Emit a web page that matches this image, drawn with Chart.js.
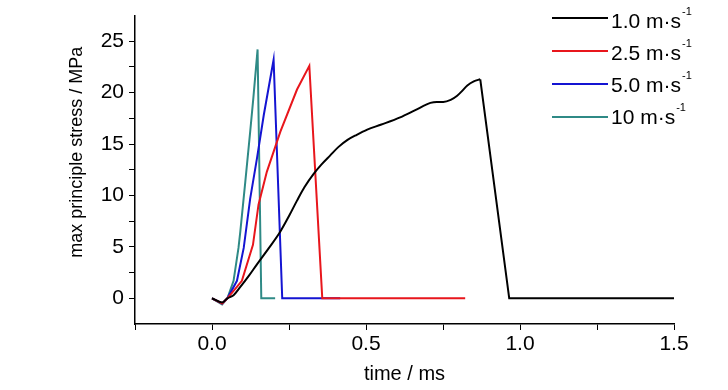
<!DOCTYPE html>
<html>
<head>
    <title>max principle stress vs time</title>
    <script src="https://cdn.jsdelivr.net/npm/chart.js@4"></script>
    <style>
        html, body { margin: 0; padding: 0; background: #fff; }
    </style>
</head>
<body>
    <canvas id="chart" width="728" height="390"></canvas>

    <script>
        // legend labels (superscript drawn separately)
        const speeds = ['1.0 m\u00b7s', '2.5 m\u00b7s', '5.0 m\u00b7s', '10 m\u00b7s'];
        const colors = ['#000000', '#e8161c', '#1414d2', '#2f8a86'];

        // time / ms and stress / MPa
        // 1.0 m/s: smooth rise up to the peak, then straight drop and flat tail
        const t1 = [0, 0.033, 0.05, 0.07, 0.092, 0.12, 0.146, 0.185, 0.222, 0.25, 0.276, 0.30, 0.33, 0.355, 0.384, 0.41, 0.44, 0.47, 0.504, 0.55, 0.611, 0.66, 0.709, 0.73, 0.751, 0.775, 0.796, 0.81, 0.829, 0.85, 0.871];
        const s1 = [0, -0.4, 0, 0.3, 1.1, 2.2, 3.3, 4.9, 6.5, 8.0, 9.5, 10.8, 12.1, 13.0, 13.9, 14.7, 15.4, 15.9, 16.4, 16.9, 17.6, 18.3, 19.0, 19.1, 19.1, 19.3, 19.7, 20.1, 20.7, 21.1, 21.3];
        const t1drop = [0.871, 0.965, 1.5];
        const s1drop = [21.3, 0, 0];

        const t2 = [0, 0.033, 0.05, 0.097, 0.133, 0.151, 0.178, 0.222, 0.276, 0.316, 0.358, 0.822];
        const s2 = [0, -0.5, 0, 1.7, 5.2, 9.1, 12.3, 16.2, 20.3, 22.6, 0, 0];

        const t3 = [0, 0.033, 0.05, 0.081, 0.103, 0.124, 0.146, 0.168, 0.2, 0.228, 0.416];
        const s3 = [0, -0.5, 0, 1.7, 4.9, 9.7, 13.6, 17.8, 23.2, 0, 0];

        const t4 = [0, 0.033, 0.05, 0.07, 0.086, 0.092, 0.108, 0.124, 0.134, 0.148, 0.16, 0.205];
        const s4 = [0, -0.6, 0, 1.7, 4.9, 6.5, 11.3, 16.2, 19.4, 24.2, 0, 0];

        const times = [t1, t2, t3, t4];
        const stresses = [s1, s2, s3, s4];

        const FONT = "'Liberation Sans', Arial, sans-serif";

        const toPoints = (ts, ss) => ts.map((t, k) => ({ x: t, y: ss[k] }));

        const datasets = speeds.map((name, i) => ({
            label: name + '-1',
            data: toPoints(times[i], stresses[i]),
            borderColor: colors[i],
            borderWidth: 2,
            pointRadius: 0,
            tension: 0,
            cubicInterpolationMode: i === 0 ? 'monotone' : 'default',
            fill: false
        }));
        // straight drop of the 1.0 m/s curve
        datasets.push({
            label: 'drop',
            data: toPoints(t1drop, s1drop),
            borderColor: colors[0],
            borderWidth: 2,
            pointRadius: 0,
            tension: 0,
            fill: false
        });

        // legend drawn top right, line sample + text + superscript
        const legendPlugin = {
            id: 'stressLegend',
            afterDraw(chart) {
                const ctx = chart.ctx;
                ctx.save();
                speeds.forEach((name, i) => {
                    const ly = 18 + i * 33;
                    ctx.strokeStyle = colors[i];
                    ctx.lineWidth = 2;
                    ctx.beginPath();
                    ctx.moveTo(552, ly);
                    ctx.lineTo(608, ly);
                    ctx.stroke();
                    ctx.fillStyle = '#000';
                    ctx.textBaseline = 'middle';
                    ctx.font = '21px ' + FONT;
                    const ty = 22 + i * 32;
                    ctx.fillText(name, 611, ty);
                    const w = ctx.measureText(name).width;
                    ctx.font = '11px ' + FONT;
                    ctx.fillText('-1', w + 611 + 1, ty - 10);
                });
                ctx.restore();
            }
        };

        const ctx = document.getElementById('chart').getContext('2d');
        new Chart(ctx, {
            type: 'line',
            data: { datasets: datasets },
            options: {
                responsive: false,
                animation: false,
                layout: { padding: { left: 68, right: 54, top: 12, bottom: 6 } },
                plugins: { legend: { display: false }, tooltip: { enabled: false } },
                scales: {
                    x: {
                        type: 'linear',
                        min: -0.25,
                        max: 1.5,
                        afterFit: s => { s.height = 60; },
                        border: { display: true, color: '#000', width: 1.5 },
                        grid: { drawOnChartArea: false, drawTicks: true, tickLength: 6, tickColor: '#000' },
                        ticks: {
                            stepSize: 0.25,
                            color: '#000',
                            padding: 4,
                            maxRotation: 0,
                            font: { family: FONT, size: 21, lineHeight: 1 },
                            callback: v => (Math.abs(v * 2 - Math.round(v * 2)) < 1e-6 ? v.toFixed(1) : '')
                        },
                        title: {
                            display: true,
                            text: 'time / ms',
                            color: '#000',
                            padding: { top: 4, bottom: 0 },
                            font: { family: FONT, size: 20, lineHeight: 1 }
                        }
                    },
                    y: {
                        type: 'linear',
                        min: -2.5,
                        max: 27.5,
                        afterBuildTicks: s => { s.ticks = s.ticks.filter(t => t.value > -2.4 && t.value < 27.4); },
                        afterFit: s => { s.width = 67; },
                        border: { display: true, color: '#000', width: 1.5 },
                        grid: { drawOnChartArea: false, drawTicks: true, tickLength: 6, tickColor: '#000' },
                        ticks: {
                            stepSize: 2.5,
                            color: '#000',
                            padding: 5,
                            font: { family: FONT, size: 21, lineHeight: 1 },
                            callback: v => (Math.abs(v / 5 - Math.round(v / 5)) < 1e-6 ? String(v) : '')
                        },
                        title: {
                            display: true,
                            // leading spaces push the text up to where it sits in the original
                            text: '\u00a0\u00a0\u00a0\u00a0\u00a0\u00a0\u00a0max principle stress / MPa',
                            color: '#000',
                            padding: { top: 0, bottom: 6 },
                            font: { family: FONT, size: 18, lineHeight: 1 }
                        }
                    }
                }
            },
            plugins: [legendPlugin]
        });
    </script>
</body>
</html>
